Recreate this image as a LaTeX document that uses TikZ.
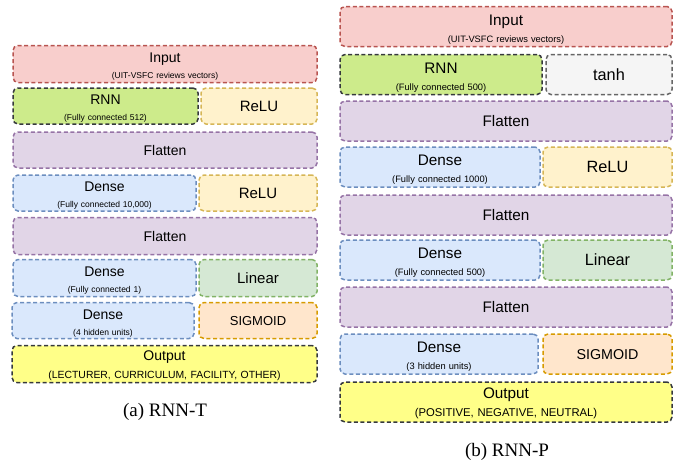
\documentclass[tikz,border=0pt]{standalone}
\usepackage{fontspec}
\setmainfont{Liberation Sans}
\newfontfamily\capfont{Liberation Serif}
\usetikzlibrary{positioning}

\definecolor{inFill}{HTML}{F8CECC}   \definecolor{inLine}{HTML}{B85450}
\definecolor{rnnFill}{HTML}{CDEB8B}  \definecolor{rnnLine}{HTML}{36393D}
\definecolor{reluFill}{HTML}{FFF2CC} \definecolor{reluLine}{HTML}{D6B656}
\definecolor{flatFill}{HTML}{E1D5E7} \definecolor{flatLine}{HTML}{9673A6}
\definecolor{denFill}{HTML}{DAE8FC}  \definecolor{denLine}{HTML}{6C8EBF}
\definecolor{linFill}{HTML}{D5E8D4}  \definecolor{linLine}{HTML}{82B366}
\definecolor{sigFill}{HTML}{FFE6CC}  \definecolor{sigLine}{HTML}{D79B00}
\definecolor{outFill}{HTML}{FFFF88}  \definecolor{outLine}{HTML}{36393D}
\definecolor{tanhFill}{HTML}{F5F5F5} \definecolor{tanhLine}{HTML}{666666}

% fonts of the two panels
\newcommand{\ttlA}{\fontsize{14}{16}\selectfont}
\newcommand{\subA}{\fontsize{8.5}{16}\selectfont}
\newcommand{\sideA}{\fontsize{15}{18}\selectfont}
\newcommand{\ttlB}{\fontsize{15.3}{17}\selectfont}
\newcommand{\subB}{\fontsize{9.3}{16.7}\selectfont}
\newcommand{\sideB}{\fontsize{16.3}{19}\selectfont}

\tikzset{
  layer/.style={draw, dash pattern=on 4pt off 2.6pt, line width=1.5pt, rounded corners=5pt, inner sep=0pt, align=center},
  wh/.style 2 args={minimum width=#1, text width=#1, minimum height=#2},
  one/.style={text height=#1, text depth=0pt},
  two/.style={text height=10pt, text depth=#1},
  inputc/.style={fill=inFill, draw=inLine},
  rnnc/.style={fill=rnnFill, draw=rnnLine},
  reluc/.style={fill=reluFill, draw=reluLine},
  flatc/.style={fill=flatFill, draw=flatLine},
  densec/.style={fill=denFill, draw=denLine},
  linc/.style={fill=linFill, draw=linLine},
  sigc/.style={fill=sigFill, draw=sigLine},
  outc/.style={fill=outFill, draw=outLine},
  tanhc/.style={fill=tanhFill, draw=tanhLine},
  caption/.style={font=\capfont\fontsize{19}{21}\selectfont, anchor=base}
}

\begin{document}
\begin{tikzpicture}[x=1pt, y=-1pt]
\useasboundingbox (0,0) rectangle (678,461);

% (a) RNN-T
\node[layer, inputc, wh={304}{37}, two=13pt, font=\subA] (inA) at (165,64) {{\ttlA Input}\\(UIT-VSFC reviews vectors)};
\node[layer, rnnc, wh={185}{36}, two=13pt, font=\subA] (rnnA) at (105.5,106) {{\ttlA RNN}\\(Fully connected 512)};
\node[layer, reluc, wh={116}{36}, one=10.7pt, font=\sideA] (reluA) at (259,106) {ReLU};
\node[layer, flatc, wh={304}{36}, one=10pt, font=\ttlA] (flatA) at (165,150) {Flatten};
\node[layer, densec, wh={183}{36}, two=13pt, font=\subA] (denA) at (104.5,193) {{\ttlA Dense}\\(Fully connected 10,000)};
\node[layer, reluc, wh={118}{36}, one=10.7pt, font=\sideA] (reluAA) at (258,193) {ReLU};
\node[layer, flatc, wh={304}{37}, one=10pt, font=\ttlA] (flatAA) at (165,236) {Flatten};
\node[layer, densec, wh={183}{37}, two=13pt, font=\subA] (denAA) at (104.5,278) {{\ttlA Dense}\\(Fully connected 1)};
\node[layer, linc, wh={118}{37}, one=10.7pt, font=\sideA] (linA) at (258,278) {Linear};
\node[layer, densec, wh={182}{36}, two=13pt, font=\subA] (denAAA) at (103,320.5) {{\ttlA Dense}\\(4 hidden units)};
\node[layer, sigc, wh={118}{36}, one=9.3pt, font=\fontsize{13}{15}\selectfont] (sigA) at (258,320.5) {SIGMOID};
\node[layer, outc, wh={305}{37}, two=16.6pt, font=\fontsize{10.4}{17.3}\selectfont] (outA) at (164.5,364) {{\ttlA Output}\\(LECTURER, CURRICULUM, FACILITY, OTHER)};
\node[caption] (capA) at (165,416) {(a) RNN-T};

% (b) RNN-P
\node[layer, inputc, wh={332}{40}, two=12.4pt, font=\subB] (inB) at (506,26.5) {{\ttlB Input}\\(UIT-VSFC reviews vectors)};
\node[layer, rnnc, wh={202}{40}, two=12.4pt, font=\subB] (rnnB) at (441,74.5) {{\ttlB RNN}\\(Fully connected 500)};
\node[layer, tanhc, wh={126}{40}, one=11.7pt, font=\sideB] (tanhB) at (609,74.5) {tanh};
\node[layer, flatc, wh={332}{40}, one=11pt, font=\ttlB] (flatB) at (506,121) {Flatten};
\node[layer, densec, wh={200}{40}, two=12.4pt, font=\subB] (denB) at (440,167) {{\ttlB Dense}\\(Fully connected 1000)};
\node[layer, reluc, wh={129}{40}, one=11.7pt, font=\sideB] (reluB) at (607.5,167) {ReLU};
\node[layer, flatc, wh={332}{40}, one=11pt, font=\ttlB] (flatBB) at (506,215) {Flatten};
\node[layer, densec, wh={200}{40}, two=12.4pt, font=\subB] (denBB) at (440,260) {{\ttlB Dense}\\(Fully connected 500)};
\node[layer, linc, wh={129}{40}, one=11.7pt, font=\sideB] (linB) at (607.5,260) {Linear};
\node[layer, flatc, wh={332}{40}, one=11pt, font=\ttlB] (flatBBB) at (506,307) {Flatten};
\node[layer, densec, wh={198}{40}, two=12.4pt, font=\subB] (denBBB) at (439,354) {{\ttlB Dense}\\(3 hidden units)};
\node[layer, sigc, wh={129}{40}, one=10.2pt, font=\fontsize{14.3}{17}\selectfont] (sigB) at (607.5,354) {SIGMOID};
\node[layer, outc, wh={332}{40}, two=17.4pt, font=\fontsize{11.3}{18.4}\selectfont] (outB) at (506,402) {{\ttlB Output}\\(POSITIVE, NEGATIVE, NEUTRAL)};
\node[caption] (capB) at (507,456) {(b) RNN-P};
\end{tikzpicture}
\end{document}
